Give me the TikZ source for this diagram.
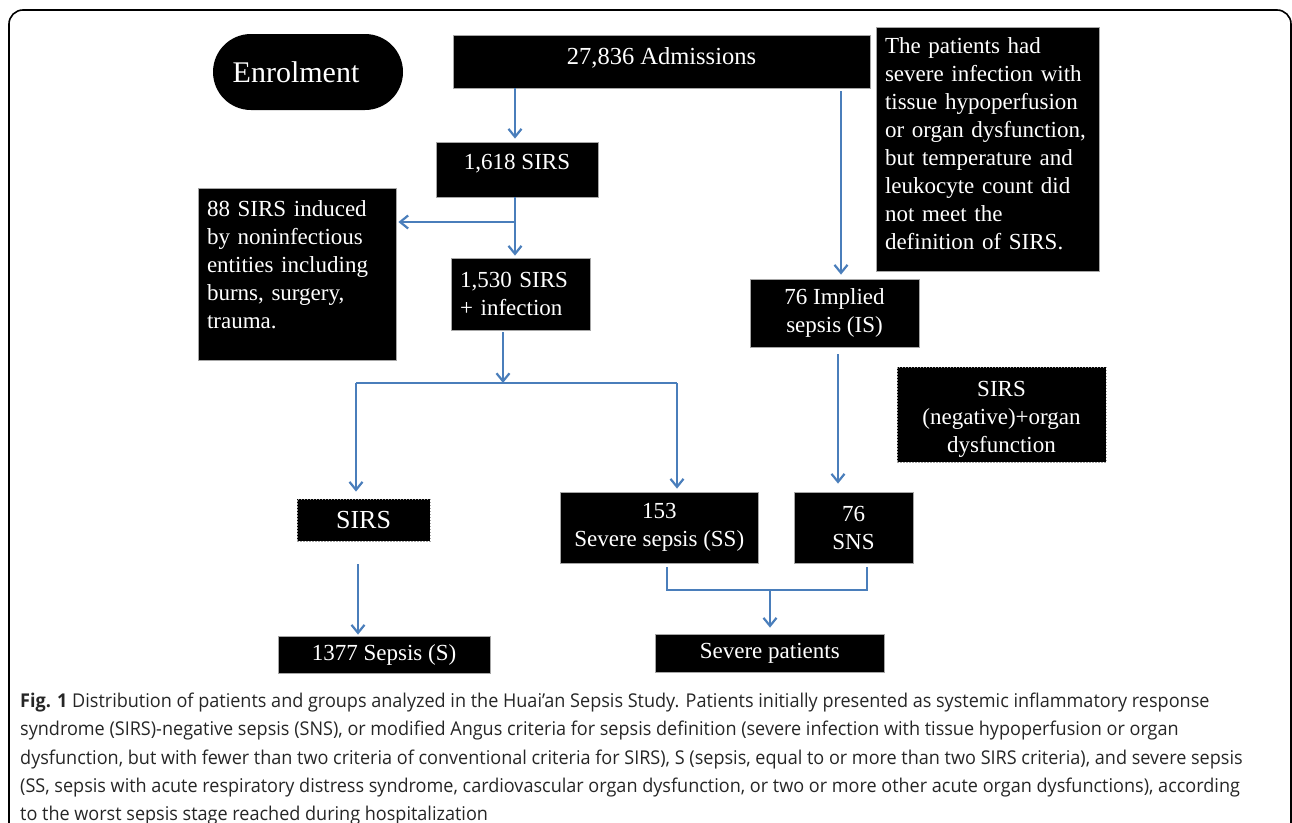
\documentclass[tikz,border=0pt]{standalone}
\usepackage{fontspec}
\setmainfont{Liberation Serif}
\newfontfamily\capfont[FakeStretch=0.95]{Open Sans}
\usetikzlibrary{arrows.meta,calc}
\definecolor{arrblue}{HTML}{4A7EBB}
\tikzset{
  blk/.style={fill=black, draw=gray!70, line width=0.8pt, text=white, inner sep=0pt,
              font=\fontsize{23}{28}\selectfont},
  dashblk/.style={blk, dash pattern=on 1.5pt off 1.5pt},
  conn/.style={draw=arrblue, line width=2.2pt},
  arr/.style={conn, -{Straight Barb[length=8pt,width=13pt]}},
  capline/.style={anchor=base west, inner sep=0pt, text=black!85,
                  font=\capfont\fontsize{19}{22}\selectfont}
}
\begin{document}
\begin{tikzpicture}[x=1pt,y=-1pt]
\useasboundingbox (0,0) rectangle (1292,822);
\draw[line width=1.6pt, rounded corners=14pt] (9,860) -- (9,10) -- (1291,10) -- (1291,860);

% boxes
\node[blk, draw=none, rounded corners=38pt, minimum width=190pt, minimum height=76pt,
      font=\fontsize{30}{36}\selectfont] (enrol) at (308,72) {Enrolment\kern24pt};
\node[blk, minimum width=417pt, minimum height=53pt, font=\fontsize{24.5}{28}\selectfont] (adm) at (661.5,61.5)
  {27,836 Admissions\rule[-12pt]{0pt}{0pt}};
\node[blk, minimum width=162pt, minimum height=55pt] (s1618) at (517,169.5) {1,618 SIRS\rule[-15pt]{0pt}{0pt}};
\node[blk, text width=180pt, inner xsep=9pt, minimum height=172pt, align=left] (n88) at (297,274)
  {88 SIRS induced\\ by noninfectious\\ entities including\\ burns, surgery,\\ trauma.\rule[-18pt]{0pt}{0pt}};
\node[blk, text width=121pt, inner xsep=9pt, minimum height=72pt, align=left] (s1530) at (520.5,294)
  {1,530 SIRS\\+ infection};
\node[blk, text width=205pt, inner xsep=9pt, minimum height=244pt, align=left] (pat) at (987.5,149)
  {The patients had\\ severe infection with\\ tissue hypoperfusion\\ or organ dysfunction,\\ but temperature and\\ leukocyte count did\\ not meet the\\ definition of SIRS.\rule[-10pt]{0pt}{0pt}};
\node[blk, minimum width=169pt, minimum height=68pt, align=center] (imp) at (834.5,313)
  {76 Implied\\ sepsis (IS)};
\node[dashblk, minimum width=209pt, minimum height=95pt, align=center] (neg) at (1001.5,414.5)
  {\rule{0pt}{25pt}SIRS\\ (negative)+organ\\ dysfunction};
\node[dashblk, minimum width=133pt, minimum height=42pt, font=\fontsize{26}{30}\selectfont] (sirs) at (363.5,520) {SIRS};
\node[blk, minimum width=212pt, minimum height=37pt] (s1377) at (384,654.5) {1377 Sepsis (S)};
\node[blk, minimum width=198.5pt, minimum height=71pt, align=center] (ss) at (659.25,527.5)
  {153\\ Severe sepsis (SS)};
\node[blk, minimum width=119pt, minimum height=71pt, align=center] (sns) at (853.5,527.5)
  {76\\ SNS};
\node[blk, minimum width=229.5pt, minimum height=38pt] (sev) at (769.75,653) {Severe patients};

% helper coordinates
\coordinate (xs) at (515,0);
\coordinate (b1) at (515,222);
\coordinate (j1) at (503,383);
\coordinate (jl) at (356,383);
\coordinate (jr) at (677,383);
\coordinate (xl) at (358,0);
\coordinate (xa) at (841,0);
\coordinate (xb) at (838,0);
\coordinate (xc) at (667,0);
\coordinate (xd) at (867,0);
\coordinate (m) at (770,590);

% connectors
\draw[arr, shorten >=3pt] (adm.south -| xs) -- (s1618.north -| xs);
\draw[arr, shorten >=2pt] (s1618.south -| xs) -- (s1530.north -| xs);
\draw[arr, shorten >=2pt] (b1) -- (b1 -| n88.east);
\draw[arr, shorten <=2pt] (s1530.south -| j1) -- (j1);
\draw[conn] (jl) -- (jr);
\draw[arr, shorten >=7pt] (jl) -- (jl |- sirs.north);
\draw[arr, shorten >=3pt] (jr) -- (jr |- ss.north);
\draw[arr, shorten <=23pt, shorten >=1pt] (sirs.south -| xl) -- (s1377.north -| xl);
\draw[arr, shorten <=3pt, shorten >=4pt] (adm.south -| xa) -- (imp.north -| xa);
\draw[arr, shorten <=7pt, shorten >=8pt] (imp.south -| xb) -- (sns.north -| xb);
\draw[conn] ($(ss.south -| xc)+(0,4)$) |- (m -| xd) -- ($(sns.south -| xd)+(0,4)$);
\draw[arr, shorten >=6pt] (m) -- (sev.north -| m);

% caption
\node[capline] (c1) at (20,707) {\textbf{Fig. 1} Distribution of patients and groups analyzed in the Huai’an Sepsis Study. Patients initially presented as systemic inflammatory response};
\node[capline] (c2) at (20,735.5) {syndrome (SIRS)-negative sepsis (SNS), or modified Angus criteria for sepsis definition (severe infection with tissue hypoperfusion or organ};
\node[capline] (c3) at (20,764) {dysfunction, but with fewer than two criteria of conventional criteria for SIRS), S (sepsis, equal to or more than two SIRS criteria), and severe sepsis};
\node[capline] (c4) at (20,792.5) {(SS, sepsis with acute respiratory distress syndrome, cardiovascular organ dysfunction, or two or more other acute organ dysfunctions), according};
\node[capline] (c5) at (20,820) {to the worst sepsis stage reached during hospitalization};
\end{tikzpicture}
\end{document}
